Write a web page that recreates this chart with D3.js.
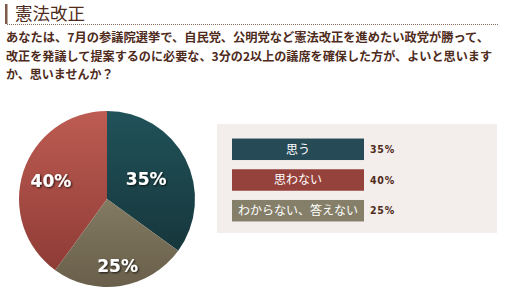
<!DOCTYPE html>
<html lang="ja">
<head>
<meta charset="UTF-8">
<script src="https://d3js.org/d3.v7.min.js"></script>
<style>
  body { margin: 0; background: #fff; }
  svg { display: block; }
</style>
</head>
<body>
<div id="chart"></div>
<script>
// answers, legend order
const answers = ["思う", "思わない", "わからない、答えない"];
const shares = [35, 40, 25];
// order the slices go round the pie, clockwise from the top
const pieOrder = ["思う", "わからない、答えない", "思わない"];
const title = "憲法改正";
const question = [
  "あなたは、7月の参議院選挙で、自民党、公明党など憲法改正を進めたい政党が勝って、",
  "改正を発議して提案するのに必要な、3分の2以上の議席を確保した方が、よいと思います",
  "か、思いませんか？"
];

const width = 507, height = 295;
const brown = "#4f2b1c";

const svg = d3.select("#chart").append("svg")
  .attr("width", width)
  .attr("height", height);

const defs = svg.append("defs");

// slice gradients (lighter on top)
const grads = {
  "思う": ["#21525a", "#133034"],
  "思わない": ["#bd5c52", "#8a3833"],
  "わからない、答えない": ["#9d957b", "#695f4a"]
};
const color = d3.scaleOrdinal()
  .domain(answers)
  .range(["#264b56", "#96423c", "#857f69"]);

answers.forEach((a, i) => {
  const g = defs.append("linearGradient")
    .attr("id", "g" + i)
    .attr("gradientUnits", "userSpaceOnUse")
    .attr("x1", 0).attr("x2", 0)
    .attr("y1", -88).attr("y2", 88);
  g.append("stop").attr("offset", "0%").attr("stop-color", grads[a][0]);
  g.append("stop").attr("offset", "100%").attr("stop-color", grads[a][1]);
});

const shadow = defs.append("filter").attr("id", "ts")
  .attr("x", "-20%").attr("y", "-20%").attr("width", "140%").attr("height", "140%");
shadow.append("feDropShadow")
  .attr("dx", 1).attr("dy", 1).attr("stdDeviation", 1)
  .attr("flood-color", "#000").attr("flood-opacity", 0.8);

// title
svg.append("rect").attr("x", 5).attr("y", 4).attr("width", 2.5).attr("height", 20).attr("fill", "#7d5a4a");
svg.append("text")
  .attr("x", 15).attr("y", 19.5)
  .attr("font-family", "'Noto Sans CJK JP', sans-serif")
  .attr("font-size", 17.5)
  .attr("fill", brown)
  .text(title);
svg.append("line")
  .attr("x1", 7).attr("x2", 499)
  .attr("y1", 24.5).attr("y2", 24.5)
  .attr("stroke", "#8a6a5a")
  .attr("stroke-width", 1)
  .attr("stroke-dasharray", "1,1");

// question, first two lines stretched to the box width
const lineEnds = [489, 492];
svg.append("g").selectAll("text")
  .data(question)
  .join("text")
  .attr("x", 6)
  .attr("y", (d, i) => 42 + i * 18.7)
  .attr("font-family", "'Noto Sans CJK JP', sans-serif")
  .attr("font-size", 12)
  .attr("font-weight", "bold")
  .attr("fill", brown)
  .attr("textLength", (d, i) => lineEnds[i] ? lineEnds[i] - 6 : null)
  .attr("lengthAdjust", "spacingAndGlyphs")
  .text(d => d);

// pie
const radius = 88;
const pieG = svg.append("g").attr("transform", "translate(107,199)");
const pie = d3.pie()
  .value(d => d.value)
  .sort((a, b) => pieOrder.indexOf(a.name) - pieOrder.indexOf(b.name));
const data = answers.map((a, i) => ({ name: a, value: shares[i], idx: i }));
const arcs = pie(data);
const arc = d3.arc().innerRadius(0).outerRadius(radius);
// how far out each label sits, as a share of the radius
const labelPos = { "思う": 0.5, "思わない": 0.67, "わからない、答えない": 0.77 };

pieG.selectAll("path")
  .data(arcs)
  .join("path")
  .attr("d", arc)
  .attr("fill", d => `url(#g${d.data.idx})`);

pieG.selectAll("text")
  .data(arcs)
  .join("text")
  .attr("transform", d => {
    const r = radius * labelPos[d.data.name];
    const [x, y] = d3.arc().innerRadius(r).outerRadius(r).centroid(d);
    return `translate(${x},${y})`;
  })
  .attr("text-anchor", "middle")
  .attr("dy", "0.36em")
  .attr("font-family", "'DejaVu Sans', sans-serif")
  .attr("font-weight", "bold")
  .attr("font-size", 17)
  .attr("fill", "#fff")
  .attr("filter", "url(#ts)")
  .text(d => d.data.value + "%");

// legend
svg.append("rect")
  .attr("x", 217).attr("y", 124)
  .attr("width", 280).attr("height", 109)
  .attr("fill", "#f3eeeb");

const y = d3.scaleBand()
  .domain(answers)
  .range([133, 227])
  .paddingInner(0.3)
  .paddingOuter(0.18);

const leg = svg.append("g").selectAll("g")
  .data(answers)
  .join("g")
  .attr("transform", d => `translate(232,${y(d)})`);

leg.append("rect")
  .attr("width", 132)
  .attr("height", y.bandwidth())
  .attr("fill", d => color(d));

leg.append("text")
  .attr("x", 66)
  .attr("y", y.bandwidth() / 2)
  .attr("dy", "0.36em")
  .attr("text-anchor", "middle")
  .attr("font-family", "'Noto Sans CJK JP', sans-serif")
  .attr("font-size", 12)
  .attr("fill", "#fff")
  .text(d => d);

leg.append("text")
  .attr("x", 138)
  .attr("y", y.bandwidth() / 2)
  .attr("dy", "0.36em")
  .attr("font-family", "'DejaVu Sans Condensed', sans-serif")
  .attr("font-weight", "bold")
  .attr("font-size", 10.5)
  .attr("letter-spacing", 0.8)
  .attr("fill", brown)
  .text((d, i) => shares[i] + "%");
</script>
</body>
</html>
